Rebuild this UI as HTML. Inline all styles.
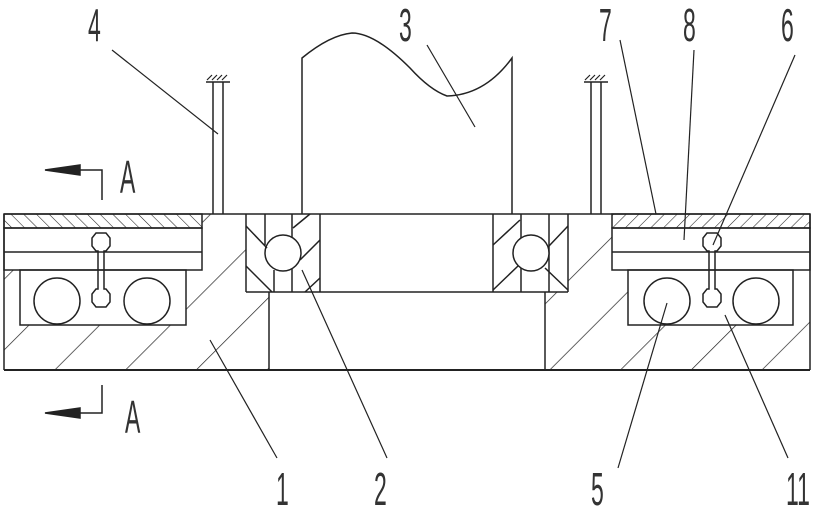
<!DOCTYPE html>
<html><head><style>html,body{margin:0;padding:0;background:#fff}svg{display:block}</style></head><body>
<svg width="827" height="511" viewBox="0 0 827 511" xmlns="http://www.w3.org/2000/svg">
<defs>
<pattern id="big" patternUnits="userSpaceOnUse" width="50" height="50" patternTransform="rotate(45)">
<line x1="0" y1="0" x2="0" y2="50" stroke="#222" stroke-width="1.4"/></pattern>
<pattern id="fineL" patternUnits="userSpaceOnUse" width="9" height="9" patternTransform="rotate(-45)">
<line x1="0" y1="0" x2="0" y2="9" stroke="#222" stroke-width="1.1"/></pattern>
<pattern id="fineR" patternUnits="userSpaceOnUse" width="9" height="9" patternTransform="rotate(45)">
<line x1="0" y1="0" x2="0" y2="9" stroke="#222" stroke-width="1.1"/></pattern>
</defs>
<g fill="none" stroke="#222" stroke-width="1.5">
<path d="M4,270 H20 V325 H186 V270 H202 V214 H246 V292 H269 V370 H4 Z" fill="url(#big)" stroke="none"/>
<path d="M545,292 H568 V214 H612 V270 H628 V325 H793 V270 H810 V370 H545 Z" fill="url(#big)" stroke="none"/>
<rect x="4" y="214" width="198" height="14" fill="url(#fineL)"/>
<rect x="612" y="214" width="198" height="14" fill="url(#fineR)"/>
<line x1="4" y1="214" x2="810" y2="214"/>
<line x1="4" y1="370" x2="810" y2="370" stroke-width="2"/>
<line x1="4" y1="214" x2="4" y2="370"/>
<line x1="810" y1="214" x2="810" y2="370"/>
<rect x="4" y="228" width="198" height="42"/>
<line x1="4" y1="252" x2="202" y2="252"/>
<rect x="612" y="228" width="198" height="42"/>
<line x1="612" y1="252" x2="810" y2="252"/>
<rect x="20" y="270" width="166" height="55"/>
<rect x="628" y="270" width="165" height="55"/>
<circle cx="57" cy="301" r="23"/><circle cx="147" cy="301" r="23"/>
<circle cx="667" cy="301" r="23"/><circle cx="756" cy="301" r="23"/>
<path d="M96,233 h10 l4,5 v8 l-4,5 h-2 v38 h2 l4,5 v8 l-4,5 h-10 l-4,-5 v-8 l4,-5 h2 v-38 h-2 l-4,-5 v-8 z"/>
<path d="M707,233 h10 l4,5 v8 l-4,5 h-2 v38 h2 l4,5 v8 l-4,5 h-10 l-4,-5 v-8 l4,-5 h2 v-38 h-2 l-4,-5 v-8 z"/>
<line x1="246" y1="214" x2="246" y2="292"/>
<line x1="246" y1="292" x2="568" y2="292"/>
<line x1="320" y1="214" x2="320" y2="292"/>
<line x1="265" y1="214" x2="265" y2="245"/><line x1="274" y1="270" x2="274" y2="292"/>
<line x1="292" y1="265" x2="292" y2="292"/><line x1="292" y1="214" x2="292" y2="238"/>
<circle cx="283" cy="253" r="18" fill="#fff"/>
<path d="M246,226 L267,248 M246,266 L272,292 M293,228 L310,214 M300,260 L320,240 M305,292 L320,278"/>
<line x1="493" y1="214" x2="493" y2="292"/><line x1="568" y1="214" x2="568" y2="292"/>
<line x1="521" y1="214" x2="521" y2="292"/><line x1="549" y1="214" x2="549" y2="292"/>
<circle cx="531" cy="253" r="18" fill="#fff"/>
<path d="M493,245 L520,220 M493,290 L518,266 M568,226 L549,246 M568,290 L545,268"/>
<line x1="269" y1="292" x2="269" y2="370"/><line x1="545" y1="292" x2="545" y2="370"/>
<path d="M302,214 V58 Q330,35 352,33 Q375,33 410,68 Q430,90 447,96 Q485,95 512,58 V214"/>
<path d="M213,214 V82 M223,214 V82 M206,82 H230 M591,214 V82 M601,214 V82 M584,82 H608"/>
<path d="M207,80 l5,-5 M212,80 l5,-5 M217,80 l5,-5 M222,80 l5,-5 M585,80 l5,-5 M590,80 l5,-5 M595,80 l5,-5 M600,80 l5,-5" stroke-width="1.2"/>
<path d="M80,170 H102 V200 M80,413 H102 V385"/>
<path d="M45,170 L80,165 L80,175 Z M45,413 L80,408 L80,418 Z" fill="#222"/>
<g stroke-width="1.2">
<line x1="112" y1="50" x2="218" y2="134"/>
<line x1="427" y1="45" x2="475" y2="127"/>
<line x1="620" y1="40" x2="656" y2="214"/>
<line x1="694" y1="50" x2="684" y2="240"/>
<line x1="795" y1="55" x2="713" y2="245"/>
<line x1="210" y1="340" x2="277" y2="458"/>
<line x1="302" y1="270" x2="387" y2="458"/>
<line x1="667" y1="303" x2="618" y2="468"/>
<line x1="725" y1="315" x2="788" y2="458"/>
</g>
</g>
<g font-family="Liberation Sans, sans-serif" font-size="46" fill="#333">
<text transform="translate(88,41) scale(0.5,1)">4</text>
<text transform="translate(399,41) scale(0.5,1)">3</text>
<text transform="translate(599,41) scale(0.5,1)">7</text>
<text transform="translate(683,41) scale(0.5,1)">8</text>
<text transform="translate(781,41) scale(0.5,1)">6</text>
<text transform="translate(120,193) scale(0.5,1)">A</text>
<text transform="translate(125,433) scale(0.5,1)">A</text>
<text transform="translate(276,505) scale(0.5,1)">1</text>
<text transform="translate(374,505) scale(0.5,1)">2</text>
<text transform="translate(591,505) scale(0.5,1)">5</text>
<text transform="translate(786,505) scale(0.5,1)">11</text>
</g>
</svg>
</body></html>
